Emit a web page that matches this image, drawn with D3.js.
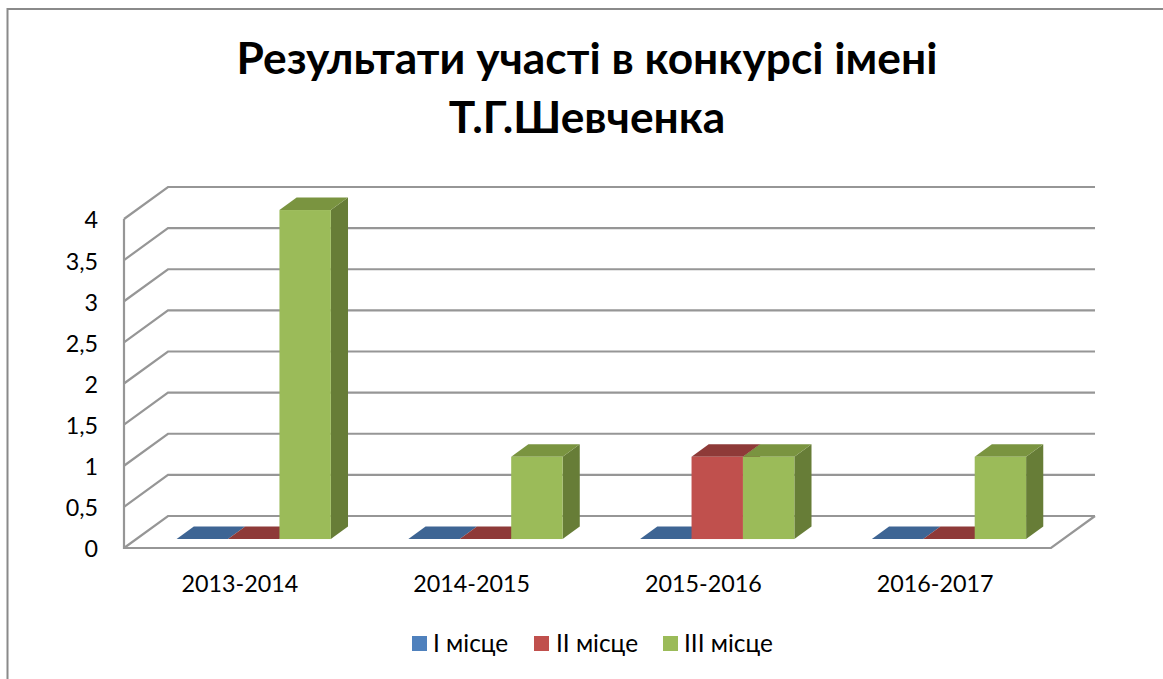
<!DOCTYPE html>
<html><head><meta charset="utf-8">
<script src="https://cdn.jsdelivr.net/npm/d3@7"></script>
<style>html,body{margin:0;padding:0;background:#fff}svg{display:block}text{font-family:Lato,"Open Sans",sans-serif;fill:#000}</style>
</head><body><svg id="c" width="1163" height="679"></svg>
<script>
const titleLines = ["Результати участі в конкурсі імені", "Т.Г.Шевченка"];
const categories = ["2013-2014", "2014-2015", "2015-2016", "2016-2017"];
const seriesNames = ["I місце", "II місце", "III місце"];
const place1 = [0, 0, 0, 0];
const place2 = [0, 0, 1, 0];
const place3 = [4, 1, 1, 1];
const yTicks = [0, 0.5, 1, 1.5, 2, 2.5, 3, 3.5, 4];
const seriesValues = [place1, place2, place3];
const front = ["#4F81BD", "#C0504D", "#9BBB59"];
const topC = ["#3E6594", "#8E3A38", "#7A9440"];
const sideC = ["#34557C", "#7A3230", "#677D37"];

const svg = d3.select("#c");
// frame
svg.append("path").attr("d","M7.5 679V9H1163").attr("fill","none").attr("stroke","#8a8a8a").attr("stroke-width",2);

const plot = {l:124, r:1051, b:548, t:219, dx:44, dy:-32};
const y = d3.scaleLinear().domain([0,4]).range([plot.b, plot.t]);
const x = d3.scaleBand().domain(categories).range([plot.l, plot.r]);
const inner = d3.scaleBand().domain(d3.range(seriesNames.length)).range([0, x.bandwidth()]).paddingOuter(0.754).paddingInner(0).align(0.52);
const grey = "#969696";

// walls & gridlines
const g = svg.append("g").attr("fill","none").attr("stroke",grey).attr("stroke-width",2.2);
g.selectAll(".gl").data(yTicks).join("path").attr("class","gl")
 .attr("d",v=>`M${plot.l} ${y(v)}L${plot.l+plot.dx} ${y(v)+plot.dy}H${plot.r+plot.dx}`);
g.append("path").attr("d",`M${plot.l} ${y(4)}V${plot.b}H${plot.r}L${plot.r+plot.dx} ${plot.b+plot.dy}`);

// bars: front plane sits inside the floor depth
const t0 = 0.28, t1 = 0.67;
const poly = (pts)=>"M"+pts.map(p=>p.join(" ")).join("L")+"Z";
const bars = svg.append("g");
categories.forEach((c,ci)=>{
  seriesValues.forEach((vals,si)=>{
    const v = vals[ci];
    const x0 = x(c)+inner(si)+plot.dx*t0, x1 = x0+inner.bandwidth();
    const base = plot.b+plot.dy*t0, top = base-(plot.b-y(v));
    const ddx = plot.dx*(t1-t0), ddy = plot.dy*(t1-t0);
    const b = bars.append("g");
    if(v>0){
      b.append("path").attr("d",poly([[x1,top],[x1+ddx,top+ddy],[x1+ddx,base+ddy],[x1,base]])).attr("fill",sideC[si]);
    }
    b.append("path").attr("d",poly([[x0,top],[x0+ddx,top+ddy],[x1+ddx,top+ddy],[x1,top]])).attr("fill",topC[si]);
    if(v>0){
      b.append("rect").attr("x",x0).attr("y",top).attr("width",x1-x0).attr("height",base-top).attr("fill",front[si]);
    }
  });
});

// axes (text only)
const yAxis = svg.append("g").attr("transform","translate(98,1.5)")
 .call(d3.axisLeft(y).tickValues(yTicks).tickSize(0).tickPadding(0).tickFormat(d=>String(d).replace(".",",")));
const xAxis = svg.append("g").attr("transform",`translate(0,${plot.b+27})`)
 .call(d3.axisBottom(x).tickSize(0).tickPadding(0));
[yAxis,xAxis].forEach(a=>{a.select(".domain").remove();a.selectAll("text").attr("font-size",23.3).style("font-family",'Lato,"Open Sans",sans-serif');});

// title
svg.append("g").selectAll("text").data(titleLines).join("text")
 .attr("x",587).attr("y",(d,i)=>74+i*59).attr("text-anchor","middle")
 .attr("font-size",44.3).attr("font-weight",700).text(d=>d);

// legend
const legendX = [412,534,663], legendTextX=[433,556,684];
const lg = svg.append("g");
seriesNames.forEach((n,i)=>{
  lg.append("rect").attr("x",legendX[i]).attr("y",636).attr("width",15).attr("height",15).attr("fill",front[i]);
  lg.append("text").attr("x",legendTextX[i]).attr("y",652).attr("font-size",24.4).text(n);
});
</script></body></html>
